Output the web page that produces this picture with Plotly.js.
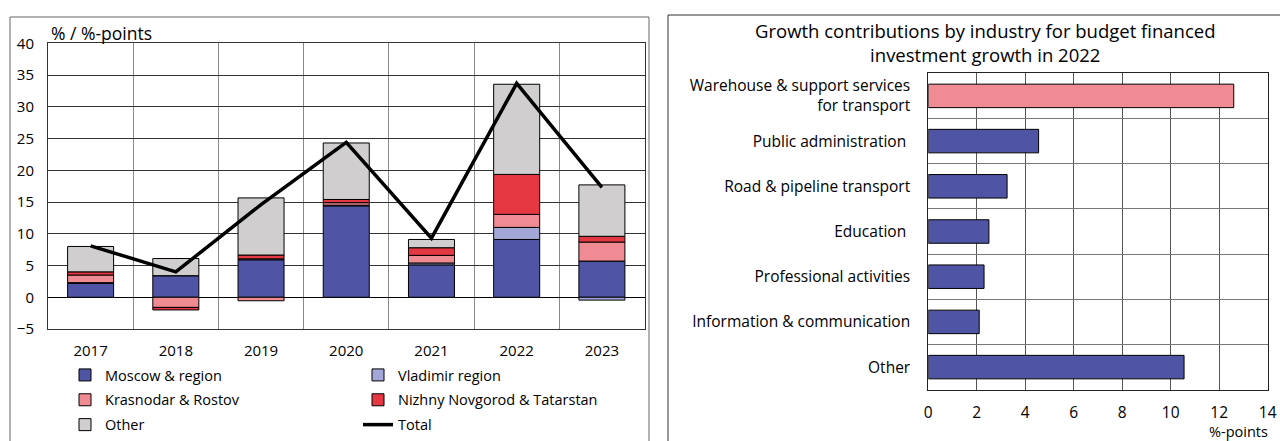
<!DOCTYPE html>
<html>
<head>
<meta charset="utf-8">
<script src="https://cdn.plot.ly/plotly-3.0.1.min.js"></script>
<style>html,body{margin:0;padding:0;background:#fff;}#chart{width:1280px;height:441px;}</style>
</head>
<body>
<div id="chart"></div>
<script>
// ---- Left chart data ----
const years = ["2017", "2018", "2019", "2020", "2021", "2022", "2023"];
const moscow    = [2.2, 3.4, 5.9, 14.4, 5.1, 9.1, 5.7];
const vladimir  = [0.1, 0.0, 0.15, 0.1, 0.3, 1.9, -0.45];
const krasnodar = [1.2, -1.6, -0.55, 0.4, 1.2, 2.05, 3.0];
const nizhny    = [0.5, -0.4, 0.6, 0.5, 1.2, 6.3, 0.9];
const otherReg  = [4.0, 2.7, 9.0, 8.9, 1.3, 14.2, 8.1];
const total     = [8.1, 4.0, 14.6, 24.4, 9.3, 33.7, 17.3];

// ---- Right chart data ----
const industries = ["Warehouse & support services<br>for transport", "Public administration\u00a0", "Road & pipeline transport", "Education\u00a0", "Professional activities", "Information & communication", "Other"];
const industryValues = [12.6, 4.55, 3.25, 2.5, 2.3, 2.1, 10.55];
const industryColors = ["#F18B93", "#4F55A4", "#4F55A4", "#4F55A4", "#4F55A4", "#4F55A4", "#4F55A4"];

const FONT = "'Open Sans', Lato, sans-serif";
const W = 1280, H = 441;
const px = v => v / W;
const py = v => (H - v) / H;

function barTrace(name, vals, color, legend, group) {
  return {
    type: "bar", name: name, x: years, y: vals, xaxis: "x", yaxis: "y",
    width: 0.54, legend: legend, legendgroup: group,
    marker: {color: color, line: {color: "#000", width: 1}},
    hoverinfo: "x+y+name"
  };
}

const data = [
  barTrace("Moscow & region", moscow, "#4F55A4", "legend", "g1"),
  barTrace("Vladimir region", vladimir, "#A3A7D7", "legend2", "g2"),
  barTrace("Krasnodar & Rostov", krasnodar, "#F18B93", "legend", "g3"),
  barTrace("Nizhny Novgorod & Tatarstan", nizhny, "#E63843", "legend2", "g4"),
  barTrace("Other", otherReg, "#D0CECF", "legend", "g5"),
  {
    type: "scatter", mode: "lines", name: "Total", x: years, y: total,
    xaxis: "x", yaxis: "y", legend: "legend2", legendgroup: "g6",
    line: {color: "#000", width: 3.5}
  },
  {
    type: "bar", orientation: "h", x: industryValues, y: industries,
    xaxis: "x2", yaxis: "y2", width: 0.52, showlegend: false,
    marker: {color: industryColors, line: {color: "#000", width: 1}}
  }
];

const legendCommon = {
  orientation: "v", traceorder: "grouped", tracegroupgap: 3,
  xanchor: "left", yanchor: "bottom", y: 0, bgcolor: "rgba(0,0,0,0)",
  font: {family: FONT, size: 14.5, color: "#000"}, itemwidth: 30
};

const layout = {
  width: W, height: H,
  margin: {l: 0, r: 0, t: 0, b: 0},
  paper_bgcolor: "#fff", plot_bgcolor: "#fff",
  font: {family: FONT, size: 14, color: "#000"},
  barmode: "relative",
  bargap: 0.46,
  xaxis: {
    domain: [px(48), px(644.5)], anchor: "y", type: "category",
    tickson: "boundaries", showgrid: true, gridcolor: "#888", gridwidth: 1,
    showline: true, mirror: true, linecolor: "#333", linewidth: 1,
    ticks: "", ticklabelstandoff: 8, tickfont: {size: 15}, fixedrange: true
  },
  yaxis: {
    domain: [py(329), py(43.3)], anchor: "x", range: [-5, 40], dtick: 5,
    showgrid: true, gridcolor: "#333", gridwidth: 1,
    zeroline: true, zerolinecolor: "#000", zerolinewidth: 1,
    showline: true, mirror: true, linecolor: "#333", linewidth: 1,
    ticks: "", ticklabelstandoff: 10, tickfont: {size: 15}, fixedrange: true
  },
  xaxis2: {
    domain: [px(928.3), px(1267.7)], anchor: "y2", range: [0, 14], dtick: 2,
    showgrid: true, gridcolor: "#555", gridwidth: 1, zeroline: false,
    showline: true, mirror: true, linecolor: "#222", linewidth: 1,
    ticks: "", ticklabelstandoff: 9, tickfont: {size: 15.5}, fixedrange: true
  },
  yaxis2: {
    domain: [py(389.7), py(73.3)], anchor: "x2", type: "category",
    autorange: "reversed", tickson: "boundaries",
    showgrid: true, gridcolor: "#777", gridwidth: 1,
    showline: true, mirror: true, linecolor: "#222", linewidth: 1,
    ticks: "", ticklabelstandoff: 14, tickfont: {size: 15.5}, fixedrange: true
  },
  legend: Object.assign({}, legendCommon, {x: px(65)}),
  legend2: Object.assign({}, legendCommon, {x: px(358)}),
  annotations: [
    {text: "% / %-points", xref: "paper", yref: "paper", x: px(49), y: py(33),
     xanchor: "left", yanchor: "middle", showarrow: false, font: {size: 17.5}},
    {text: "Growth contributions by industry for budget financed<br>investment growth in 2022",
     xref: "paper", yref: "paper", x: px(985), y: py(42), xanchor: "center", yanchor: "middle",
     showarrow: false, font: {size: 18.5}},
    {text: "%-points", xref: "paper", yref: "paper", x: px(1238), y: py(431),
     xanchor: "center", yanchor: "middle", showarrow: false, font: {size: 14.5}}
  ],
  shapes: [
    {type: "rect", xref: "paper", yref: "paper", x0: px(10), x1: px(649), y0: -0.2, y1: py(17),
     line: {color: "#666", width: 1}, fillcolor: "rgba(0,0,0,0)", layer: "below"},
    {type: "rect", xref: "paper", yref: "paper", x0: px(668), x1: 1.2, y0: -0.2, y1: py(15),
     line: {color: "#333", width: 1}, fillcolor: "rgba(0,0,0,0)", layer: "below"}
  ],
  showlegend: true
};

Plotly.newPlot("chart", data, layout, {displayModeBar: false, staticPlot: true});
</script>
</body>
</html>
